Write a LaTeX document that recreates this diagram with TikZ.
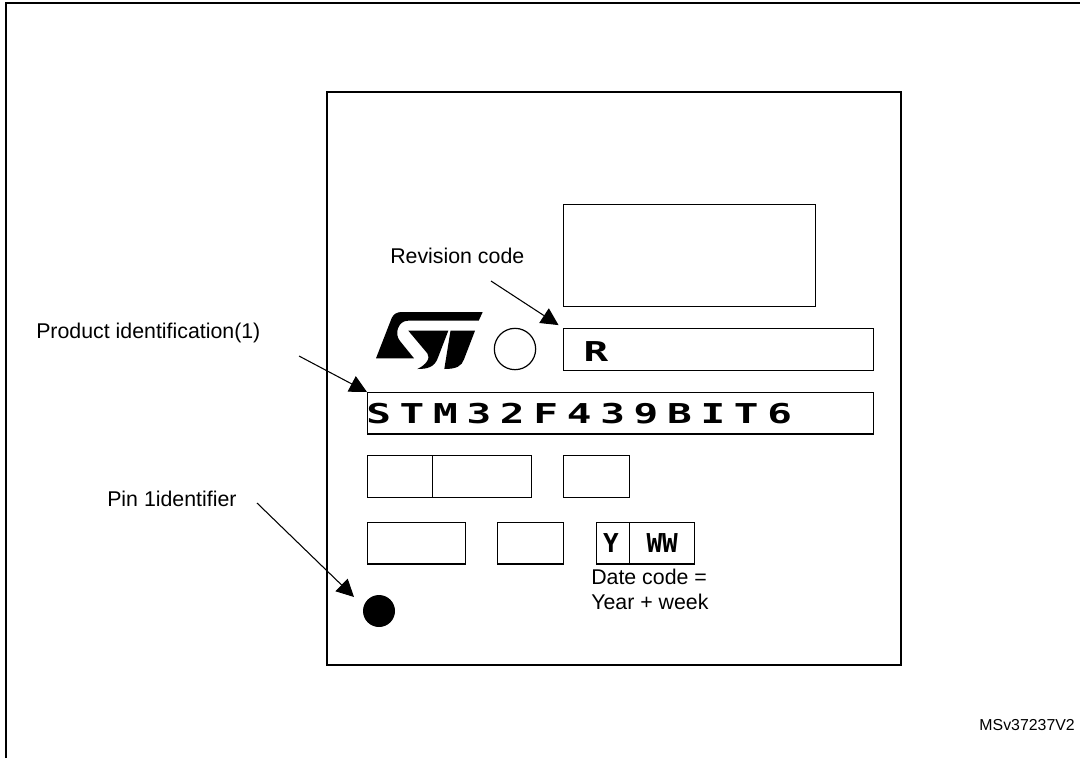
\documentclass[tikz,border=0pt]{standalone}
\usepackage{fontspec}
\setmainfont{Liberation Sans}
\newfontfamily\markfont[FakeStretch=1.5,LetterSpace=32]{DejaVu Sans Mono Bold}
\newfontfamily\datefont{DejaVu Sans Mono Bold}
\usetikzlibrary{arrows.meta, positioning, calc}

\begin{document}
\begin{tikzpicture}[
    x=0.75pt, y=-0.75pt,
    field/.style={rectangle, draw, line width=1.1pt, inner sep=0pt, anchor=north west},
    label/.style={font=\fontsize{16}{18.75}\selectfont, inner sep=0pt, align=left},
    marking/.style={font=\markfont\fontsize{20.5}{22}\selectfont, inner sep=0pt},
    datemark/.style={font=\datefont\fontsize{19.5}{22}\selectfont, inner sep=0pt},
    arrow/.style={-{Triangle[length=13pt, width=13pt]}, line width=0.8pt}
]
    \useasboundingbox (0,0) rectangle (1080,758);
    \coordinate (frameSW) at (6,758);
    \coordinate (frameNW) at (6,3);
    \coordinate (frameNE) at (1080,3);
    \draw[line width=1.5pt] (frameSW) -- (frameNW) -- (frameNE);

    % package outline and fields
    \node[field, line width=1.6pt, minimum width=430.5pt, minimum height=430pt] (package) at (326,91) {};
    \node[field, minimum width=189pt, minimum height=76.5pt] (blank) at (563,204) {};
    \node[field, minimum width=232.5pt, minimum height=31.5pt] (revbox) at (563,328) {};
    \node[field, minimum width=379.5pt, minimum height=31pt] (prodbox) at (367,392) {};
    \node[field, minimum width=48.75pt, minimum height=31.5pt] (lotA) at (367,455) {};
    \node[field, minimum width=74.25pt, minimum height=31.5pt] (lotB) at (432,455) {};
    \node[field, minimum width=49.5pt, minimum height=31.5pt] (lotC) at (563,455) {};
    \node[field, minimum width=73.5pt, minimum height=31pt] (plant) at (367,522) {};
    \node[field, minimum width=49.5pt, minimum height=31pt] (country) at (497,522) {};
    \node[field, minimum width=24.75pt, minimum height=31pt] (year) at (596,522) {};
    \node[field, minimum width=48.75pt, minimum height=31pt] (week) at (629,522) {};

    \node[circle, draw, line width=0.9pt, minimum size=31pt, inner sep=0pt] (mark) at (515,349) {};
    \node[circle, fill=black, minimum size=24pt, inner sep=0pt] (pinone) at (379,611) {};

    % logo
    \fill (482.7,312) -- (401.7,312) .. controls (397,312) and (393.5,314) .. (391.7,318)
        -- (376,358.3) -- (414,358.3) -- (400,341) .. controls (394,334) and (398,320.7) .. (408,320.7)
        -- (478.7,320.7) -- cycle;
    \fill (408.3,330.7) -- (448.3,330.7) -- (437.7,358.3) .. controls (434.3,367.3) and (427.3,369) .. (417.3,369)
        .. controls (426,365) and (431,358) .. (427.3,353.3) -- cycle;
    \fill (450.5,330.7) -- (475,330.7) -- (464,359.3) .. controls (461.7,366) and (456.7,369) .. (444.3,369) -- cycle;

    % markings
    \node[marking] (revtext) at (596,352) {R};
    \node[marking, anchor=west] (prodtext) at (366,414) {STM32F439BIT6};
    \node[datemark] (yeartext) at (611,543) {Y};
    \node[datemark] (weektext) at (week.center) {WW};

    % labels
    \node[label, anchor=west] (revlabel) at (390,256) {Revision code};
    \node[label, anchor=west] (prodlabel) at (36,333) {Product identification(1)};
    \node[label, anchor=west] (pinlabel) at (107,499) {Pin 1identifier};
    \node[label, anchor=west] (datelabel) at (591,589) {Date code =\\Year + week};
    \node[font=\fontsize{11.9}{14}\selectfont, inner sep=0pt, anchor=east] (docref) at (1075,725) {MSv37237V2};

    \coordinate (revtail) at (491,281);
    \coordinate (prodtail) at (299,356);
    \coordinate (pintail) at (257,503);
    \coordinate (pintip) at (354,597);
    \draw[arrow, shorten >=4pt] (revtail) -- (revbox.north west);
    \draw[arrow] (prodtail) -- (prodbox.north west);
    \draw[arrow] (pintail) -- (pintip);
\end{tikzpicture}
\end{document}
